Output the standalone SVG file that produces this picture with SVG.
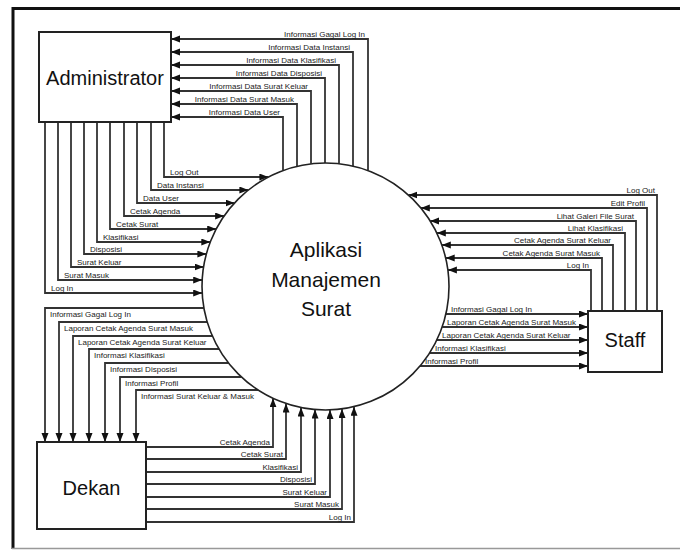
<svg xmlns="http://www.w3.org/2000/svg" width="680" height="550" viewBox="0 0 680 550">
<style>
.box{fill:#fff;stroke:#222;stroke-width:2}
.proc{fill:#fff;stroke:#222;stroke-width:1.6}
.big{font-family:"Liberation Sans",Arial,sans-serif;font-size:20px;fill:#111;text-anchor:middle}
.pt{font-family:"Liberation Sans",Arial,sans-serif;font-size:21px;fill:#111;text-anchor:middle}
.ln{fill:none;stroke:#333;stroke-width:1.8;marker-end:url(#ah)}
.lb{font-family:"Liberation Sans",Arial,sans-serif;font-size:8px;fill:#222}
.e{text-anchor:end}
</style>
<defs>
<marker id="ah" markerUnits="userSpaceOnUse" markerWidth="10" markerHeight="8" refX="9" refY="3.5" orient="auto">
<path d="M0,0 L9,3.5 L0,7 z" fill="#111"/>
</marker>
</defs>
<rect width="680" height="550" fill="#fff"/>
<g id="frame">
<line x1="12" y1="8.5" x2="680" y2="8.5" stroke="#111" stroke-width="3"/>
<line x1="13" y1="7" x2="13" y2="549" stroke="#111" stroke-width="3"/>
<line x1="12" y1="548.5" x2="680" y2="548.5" stroke="#999" stroke-width="1.5"/>
</g>
<g id="connectors">
<g id="proc-to-admin">
<path class="ln" d="M368,170.5 V39 H171"/><text class="lb e" x="365" y="37">Informasi Gagal Log In</text>
<path class="ln" d="M353,166.1 V52 H171"/><text class="lb e" x="350" y="50">Informasi Data Instansi</text>
<path class="ln" d="M339,163.7 V65 H171"/><text class="lb e" x="336" y="63">Informasi Data Klasifikasi</text>
<path class="ln" d="M325,163 V78 H171"/><text class="lb e" x="322" y="76">Informasi Data Disposisi</text>
<path class="ln" d="M311,163.7 V91 H171"/><text class="lb e" x="308" y="89">Informasi Data Surat Keluar</text>
<path class="ln" d="M297,166.3 V104 H171"/><text class="lb e" x="294" y="102">Informasi Data Surat Masuk</text>
<path class="ln" d="M283,170.5 V117 H171"/><text class="lb e" x="280" y="115">Informasi Data User</text>
</g>
<g id="admin-to-proc">
<path class="ln" d="M164,122 V177 H268.4"/><text class="lb" x="170" y="175">Log Out</text>
<path class="ln" d="M151,122 V190 H248.4"/><text class="lb" x="157" y="188">Data Instansi</text>
<path class="ln" d="M137,122 V203 H234.5"/><text class="lb" x="143" y="201">Data User</text>
<path class="ln" d="M124,122 V216 H224.1"/><text class="lb" x="130" y="214">Cetak Agenda</text>
<path class="ln" d="M110,122 V229 H216.2"/><text class="lb" x="116" y="227">Cetak Surat</text>
<path class="ln" d="M97,122 V242 H210.3"/><text class="lb" x="103" y="240">Klasifikasi</text>
<path class="ln" d="M84,122 V254 H206.4"/><text class="lb" x="90" y="252">Disposisi</text>
<path class="ln" d="M71,122 V267 H203.6"/><text class="lb" x="77" y="265">Surat Keluar</text>
<path class="ln" d="M58,122 V280 H202.2"/><text class="lb" x="64" y="278">Surat Masuk</text>
<path class="ln" d="M45,122 V293 H202.2"/><text class="lb" x="51" y="291">Log In</text>
</g>
<g id="staff-to-proc">
<path class="ln" d="M657,311 V195 H408.4"/><text class="lb e" x="655" y="193">Log Out</text>
<path class="ln" d="M647,311 V208 H420.8"/><text class="lb e" x="645" y="206">Edit Profil</text>
<path class="ln" d="M636,311 V221 H430.2"/><text class="lb e" x="634" y="219">Lihat Galeri File Surat</text>
<path class="ln" d="M625,311 V233 H436.8"/><text class="lb e" x="623" y="231">Lihat Klasifikasi</text>
<path class="ln" d="M613,311 V245 H441.8"/><text class="lb e" x="611" y="243">Cetak Agenda Surat Keluar</text>
<path class="ln" d="M602,311 V258 H445.7"/><text class="lb e" x="600" y="256">Cetak Agenda Surat Masuk</text>
<path class="ln" d="M591,311 V270 H447.9"/><text class="lb e" x="589" y="268">Log In</text>
</g>
<g id="proc-to-staff">
<path class="ln" d="M445.9,314 H588"/><text class="lb" x="451" y="312">Informasi Gagal Log In</text>
<path class="ln" d="M442.2,327 H588"/><text class="lb" x="447" y="325">Laporan Cetak Agenda Surat Masuk</text>
<path class="ln" d="M436.8,340 H588"/><text class="lb" x="442" y="338">Laporan Cetak Agenda Surat Keluar</text>
<path class="ln" d="M429.6,353 H588"/><text class="lb" x="435" y="351">Informasi Klasifikasi</text>
<path class="ln" d="M420,366 H588"/><text class="lb" x="425" y="364">Informasi Profil</text>
</g>
<g id="proc-to-dekan">
<path class="ln" d="M203.9,308 H45 V442"/><text class="lb" x="50" y="317">Informasi Gagal Log In</text>
<path class="ln" d="M207.2,322 H59 V442"/><text class="lb" x="64" y="331">Laporan Cetak Agenda Surat Masuk</text>
<path class="ln" d="M212.4,336 H73 V442"/><text class="lb" x="78" y="345">Laporan Cetak Agenda Surat Keluar</text>
<path class="ln" d="M219,349 H89 V442"/><text class="lb" x="94" y="358">Informasi Klasifikasi</text>
<path class="ln" d="M228.6,363 H105 V442"/><text class="lb" x="110" y="372">Informasi Disposisi</text>
<path class="ln" d="M241.5,377 H120 V442"/><text class="lb" x="125" y="386">Informasi Profil</text>
<path class="ln" d="M258.1,390 H136 V442"/><text class="lb" x="141" y="399">Informasi Surat Keluar &amp; Masuk</text>
</g>
<g id="dekan-to-proc">
<path class="ln" d="M146,447 H273 V398.3"/><text class="lb e" x="270" y="445">Cetak Agenda</text>
<path class="ln" d="M146,459 H286 V403.5"/><text class="lb e" x="283" y="457">Cetak Surat</text>
<path class="ln" d="M146,472 H301 V407.5"/><text class="lb e" x="298" y="470">Klasifikasi</text>
<path class="ln" d="M146,484 H315 V409.6"/><text class="lb e" x="312" y="482">Disposisi</text>
<path class="ln" d="M146,497 H330 V409.9"/><text class="lb e" x="327" y="495">Surat Keluar</text>
<path class="ln" d="M146,509 H342 V408.9"/><text class="lb e" x="339" y="507">Surat Masuk</text>
<path class="ln" d="M146,522 H354 V406.7"/><text class="lb e" x="351" y="520">Log In</text>
</g>
</g>
<g id="admin">
<rect class="box" x="39" y="32" width="132" height="90"/>
<text class="big" x="105" y="85">Administrator</text>
</g>
<g id="process">
<circle class="proc" cx="325.5" cy="286.5" r="123.5"/>
<text class="pt" x="326" y="257">Aplikasi</text>
<text class="pt" x="326" y="287">Manajemen</text>
<text class="pt" x="326" y="316">Surat</text>
</g>
<g id="staff">
<rect class="box" x="588" y="311" width="74" height="61"/>
<text class="big" x="625" y="347">Staff</text>
</g>
<g id="dekan">
<rect class="box" x="37" y="442" width="109" height="87"/>
<text class="big" x="91.5" y="495">Dekan</text>
</g>
</svg>
